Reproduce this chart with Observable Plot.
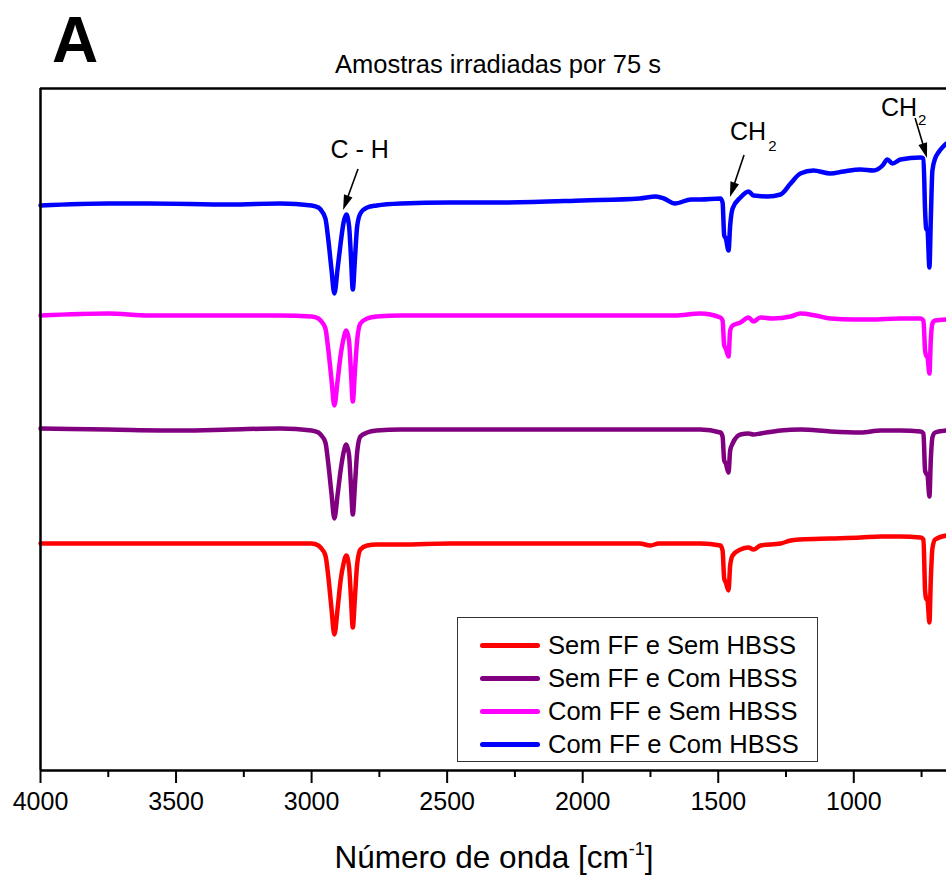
<!DOCTYPE html>
<html><head><meta charset="utf-8">
<script src="https://cdn.jsdelivr.net/npm/d3@7"></script>
<script src="https://cdn.jsdelivr.net/npm/@observablehq/plot@0.6"></script>
<style>
body{margin:0;background:#fff;}
#wrap{position:relative;width:946px;height:879px;overflow:hidden;font-family:Arial,"Liberation Sans",sans-serif;background:#fff;}
#legend{position:absolute;left:457px;top:617px;width:361px;height:145px;border:1px solid #333;box-sizing:border-box;background:#fff;}
.row{position:absolute;left:0;height:33px;display:flex;align-items:center;font-size:25.5px;color:#000;white-space:nowrap;line-height:1}
.sw{display:inline-block;width:60px;height:5px;margin-left:22px;margin-right:8px;border-radius:2.5px}
</style></head><body><div id="wrap"></div>
<script>
// ---- data (wavenumber in cm^-1, offset transmittance in a.u.) ----
const seriesNames = ["Sem FF e Sem HBSS", "Sem FF e Com HBSS", "Com FF e Sem HBSS", "Com FF e Com HBSS"];
const seriesColors = ["#ff0000", "#800080", "#ff00ff", "#0000ff"];

const redWn = [4000,3750,3480,3300,3000,2975,2967,2949,2938,2927,2916,2904,2893,2882,2872,2862,2855,2848,2840,2832,2820,2795,2760,2670,2490,2300,2000,1790,1750,1720,1566,1492,1484,1478,1472,1462,1456,1447,1418,1388,1370,1344,1270,1233,1197,1086,975,900,828,754,743,737,733,728,721,716,710,700,658];
const redVal = [227,227,227,227,227,225,223,215,193,163,136,162,190,207,215,204,174,143,174,206,221,225,226,226,227,227,227,227,225,227,227,225,220,192,188,180,205,215,221,223,221,225,227,230,231,232,233,234,234,233,231,180,172,170,148,190,222,231,235];

const purpleWn = [4000,3750,3480,3300,3115,3000,2975,2967,2949,2938,2927,2916,2904,2893,2882,2872,2862,2855,2848,2840,2832,2820,2795,2760,2670,2490,2300,2000,1790,1660,1566,1492,1484,1478,1472,1462,1456,1447,1418,1388,1370,1344,1270,1197,1086,975,900,828,754,743,737,733,728,721,716,710,700,658];
const purpleVal = [342,341,340,341,342,340,338,336,328,306,278,252,276,300,318,326,316,286,256,286,318,334,338,340,341,341,341,341,341,341,341,338,334,310,307,298,320,327,336,337,336,337,340,341,339,338,340,340,339,337,300,297,295,274,310,333,338,340];

const magentaWn = [4000,3750,3600,3480,3300,3115,3000,2975,2967,2949,2938,2927,2916,2904,2893,2882,2872,2862,2855,2848,2840,2832,2820,2795,2760,2670,2490,2300,2000,1790,1730,1660,1566,1492,1484,1478,1472,1462,1456,1447,1418,1388,1370,1345,1300,1233,1197,1141,1086,1000,938,828,754,743,737,733,728,721,716,710,700,658];
const magentaVal = [455,457,455,455,455,455,454,452,450,442,420,392,365,390,415,432,440,430,400,369,400,430,447,452,454,455,455,455,455,455,455,455,457,453,450,425,422,414,440,445,448,453,449,453,452,454,457,455,452,451,451,452,452,450,420,415,413,397,430,447,450,451];

const blueWn = [4000,3750,3600,3300,3115,3000,2975,2967,2949,2938,2927,2916,2904,2893,2882,2872,2862,2855,2848,2840,2832,2820,2795,2760,2670,2490,2300,2000,1790,1730,1700,1660,1600,1566,1492,1484,1478,1472,1462,1456,1447,1418,1388,1370,1318,1270,1233,1197,1149,1086,1038,975,927,894,876,857,828,754,743,737,733,728,721,716,710,700,688,670,658];
const blueVal = [565,567,567,566,567,565,563,561,552,530,502,477,502,527,548,556,545,515,481,512,544,557,563,565,567,568,568,570,572,574,572,567,571,571,572,568,535,532,520,545,562,573,579,575,574,576,587,597,600,597,599,601,600,605,611,607,611,613,612,560,542,540,503,550,600,612,618,624,627];

const majorTicks = [4000,3500,3000,2500,2000,1500,1000];
const minorTicks = [3750,3250,2750,2250,1750,1250,750];

// ---- build table ----
const seriesWn = [redWn, purpleWn, magentaWn, blueWn];
const seriesVal = [redVal, purpleVal, magentaVal, blueVal];
const rows = [];
seriesNames.forEach((name, i) => {
  seriesWn[i].forEach((w, j) => rows.push({series: name, wn: w, v: seriesVal[i][j]}));
});

// ---- annotations (data coordinates) ----
const annoText = [
  {t: "C - H", x: 2823, y: 621, size: 25},
  {t: "CH", x: 1390, y: 639, size: 25},
  {t: "2", x: 1300, y: 624, size: 15},
  {t: "CH", x: 833, y: 663, size: 25},
  {t: "2", x: 748, y: 650, size: 15}
];
const annoArrows = [
  {x1: 2827, y1: 601, x2: 2882, y2: 560},
  {x1: 1403, y1: 615, x2: 1455, y2: 573},
  {x1: 772, y1: 652, x2: 728, y2: 612}
];

function arrowsMark(index, scales) {
  const g = d3.create("svg:g");
  for (const a of annoArrows) {
    const x1 = scales.x(a.x1), y1 = scales.y(a.y1), x2 = scales.x(a.x2), y2 = scales.y(a.y2);
    const ang = Math.atan2(y2 - y1, x2 - x1);
    const L = 15, W = 4.5;
    const bx = x2 - L * Math.cos(ang), by = y2 - L * Math.sin(ang);
    g.append("line").attr("x1", x1).attr("y1", y1).attr("x2", bx + 2*Math.cos(ang)).attr("y2", by + 2*Math.sin(ang))
      .attr("stroke", "#000").attr("stroke-width", 1.6);
    g.append("path")
      .attr("d", `M${x2},${y2}L${bx + W * Math.sin(ang)},${by - W * Math.cos(ang)}L${bx - W * Math.sin(ang)},${by + W * Math.cos(ang)}Z`)
      .attr("fill", "#000");
  }
  return g.node();
}

const FONT = "Arial, 'Liberation Sans', sans-serif";
const plot = Plot.plot({
  width: 946, height: 879,
  marginLeft: 40, marginRight: 0, marginTop: 88, marginBottom: 109,
  x: {domain: [4000, 658], axis: null},
  y: {domain: [0, 682], axis: null},
  color: {domain: seriesNames, range: seriesColors},
  style: {fontFamily: FONT, fontSize: "25px", color: "#000", background: "#fff", overflow: "visible"},
  marks: [
    Plot.line(rows, {x: "wn", y: "v", z: "series", stroke: "series", strokeWidth: 4.5, curve: "monotone-x", strokeLinejoin: "round", strokeLinecap: "round"}),
    Plot.ruleY([0], {stroke: "#000", strokeWidth: 2.5}),
    Plot.ruleY([682], {stroke: "#000", strokeWidth: 2.5}),
    Plot.ruleX([4000], {stroke: "#000", strokeWidth: 2.5}),
    Plot.axisX({ticks: majorTicks, tickSize: 13, tickPadding: 9, strokeWidth: 2, fontSize: 25, tickFormat: d => String(d), label: null}),
    Plot.axisX({ticks: minorTicks, tickSize: 7, strokeWidth: 2, text: null, label: null}),
    Plot.text(annoText, {x: "x", y: "y", text: "t", fontSize: d => d.size, fill: "#000", lineAnchor: "middle"}),
    arrowsMark
  ]
});

const wrap = document.getElementById("wrap");
wrap.appendChild(plot);
const svg = d3.select(plot);
svg.append("text").attr("x", 52).attr("y", 62).attr("font-size", 64).attr("font-weight", "bold")
  .attr("text-anchor", "start").attr("font-family", FONT).attr("fill", "#000").text("A");
svg.append("text").attr("x", 498).attr("y", 73).attr("font-size", 25.5).attr("text-anchor", "middle")
  .attr("font-family", FONT).attr("fill", "#000").text("Amostras irradiadas por 75 s");
const xt = svg.append("text").attr("x", 494).attr("y", 868).attr("font-size", 31.5).attr("text-anchor", "middle")
  .attr("font-family", FONT).attr("fill", "#000");
xt.append("tspan").text("Número de onda [cm");
xt.append("tspan").attr("font-size", 18).attr("dy", -13).text("-1");
xt.append("tspan").attr("dy", 13).text("]");

// legend
const legend = document.createElement("div");
legend.id = "legend";
seriesNames.forEach((name, i) => {
  const row = document.createElement("div");
  row.className = "row";
  row.style.top = (11 + i * 33) + "px";
  const sw = document.createElement("span");
  sw.className = "sw";
  sw.style.background = seriesColors[i];
  const tx = document.createElement("span");
  tx.textContent = name;
  row.appendChild(sw); row.appendChild(tx);
  legend.appendChild(row);
});
wrap.appendChild(legend);
</script>
</body></html>
